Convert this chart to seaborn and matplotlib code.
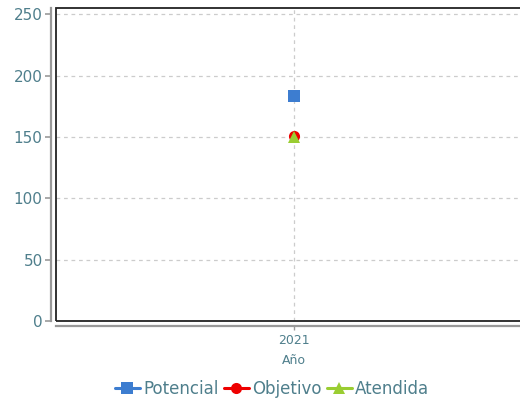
import matplotlib
matplotlib.use("Agg")
import matplotlib.pyplot as plt
from matplotlib.patches import Rectangle
import seaborn as sns
import pandas as pd

years = [2021]
potencial = [183]
objetivo = [151]
atendida = [150]
series_names = ["Potencial", "Objetivo", "Atendida"]
series_values = [potencial, objetivo, atendida]
colors = ["#3d7dd0", "#ee0000", "#9acd32"]
markers = ["s", "o", "^"]
y_ticks = [0, 50, 100, 150, 200, 250]

sns.set_style("white")
plt.rcParams["font.family"] = ["DejaVu Sans"]

label_color = "#4f7f8c"
fig = plt.figure(figsize=(5.2, 4), dpi=100)
ax = fig.add_axes([56 / 520, (400 - 321) / 400, (532 - 56) / 520, (321 - 8) / 400])

for name, vals, c, m in zip(series_names, series_values, colors, markers):
    df = pd.DataFrame({"Año": years, "v": vals})
    sns.lineplot(data=df, x="Año", y="v", ax=ax, color=c, marker=m,
                 markersize=8, markeredgewidth=0, linewidth=2.2, label=name, zorder=3)

ax.set_xlim(2020, 2022)
ax.set_ylim(0, 255)
ax.set_yticks(y_ticks)
ax.set_xticks(years)
ax.set_xticklabels([str(y) for y in years])
ax.grid(True, color="#cccccc", linestyle=(0, (3, 3)), linewidth=0.9)
ax.set_axisbelow(True)

for s in ["top", "right"]:
    ax.spines[s].set_visible(False)
for s in ["left", "bottom"]:
    ax.spines[s].set_position(("outward", 3.6))
    ax.spines[s].set_color("#999999")
    ax.spines[s].set_linewidth(1.6)

ax.add_patch(Rectangle((0, 0), 1, 1, transform=ax.transAxes, fill=False,
                       edgecolor="#222222", linewidth=1.3, clip_on=False, zorder=5))

ax.tick_params(axis="y", colors="#999999", labelcolor=label_color, labelsize=11,
               length=4, width=1.2, pad=2, left=True)
ax.tick_params(axis="x", colors="#999999", labelcolor=label_color, labelsize=9,
               length=3, width=1, pad=3, bottom=True)
ax.set_ylabel("")
ax.set_xlabel("Año", color=label_color, fontsize=9, labelpad=5)

ax.legend_.remove()
handles, labels = ax.get_legend_handles_labels()
fig.legend(handles, labels, loc="center", bbox_to_anchor=(272 / 520, 11 / 400),
           ncol=3, frameon=False, fontsize=12, labelcolor=label_color,
           handlelength=1.5, handletextpad=0.2, columnspacing=0.3)

fig.savefig("out.png", dpi=100)
